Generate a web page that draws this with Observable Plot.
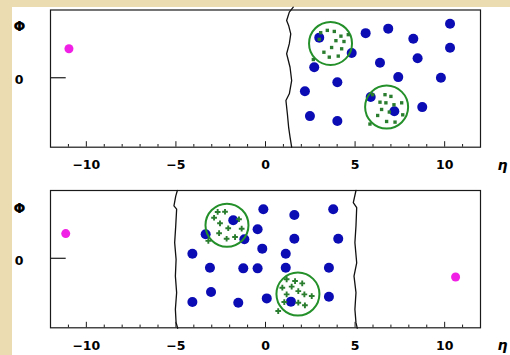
<!DOCTYPE html>
<html><head><meta charset="utf-8">
<script src="https://cdn.jsdelivr.net/npm/d3@7"></script>
<script src="https://cdn.jsdelivr.net/npm/@observablehq/plot@0.6"></script>
<style>
html,body{margin:0;padding:0;background:#ecdcb2;width:510px;height:355px;overflow:hidden;}
#card{position:absolute;left:12px;top:7px;width:498px;height:348px;background:#fff;}
#card svg{display:block;overflow:visible;}
</style></head><body><div id="card"></div>
<script>
// ---- axes ----
const etaDomain = [-12, 12];
const phiDomain = [-3.24, 3.16];
const etaTickLabels = [-10, -5, 0, 5, 10];
const etaMinorTicks = [-11, -9, -8, -7, -6, -4, -3, -2, -1, 1, 2, 3, 4, 6, 7, 8, 9, 11];
const phiTickLabels = [0];
const etaTitle = "η";
const phiTitle = "Φ";

// ---- top panel ----
const topBlueEta = [10.30, 6.85, 5.59, 8.25, 10.30, 4.81, 8.49, 6.39, 2.72, 7.41, 9.79, 4.01, 2.20, 5.87, 8.75, 7.19, 2.48, 4.01, 3.00];
const topBluePhi = [2.52, 2.29, 2.08, 1.82, 1.40, 1.15, 0.91, 0.70, 0.49, 0.03, 0.00, -0.21, -0.63, -0.90, -1.37, -1.56, -1.79, -2.02, 1.87];
const topMagentaEta = [-10.97];
const topMagentaPhi = [1.35];
const topJetEta = [3.63, 6.76];
const topJetPhi = [1.60, -1.37];
const topCellEta = [3.08, 3.45, 3.84, 4.21, 4.62, 3.00, 3.93, 4.38, 3.69, 3.26, 4.25, 3.56, 4.06, 2.67,
                    5.98, 6.67, 7.00, 6.39, 6.72, 7.17, 7.60, 6.48, 6.91, 6.26, 6.76, 7.23, 7.66, 5.83];
const topCellPhi = [2.10, 2.21, 2.16, 1.94, 2.01, 1.79, 1.73, 1.69, 1.41, 1.19, 1.35, 0.96, 1.01, 0.85,
                    -0.79, -0.79, -0.87, -1.14, -1.17, -1.26, -1.17, -1.48, -1.60, -1.76, -2.04, -2.07, -1.73, -2.16];
const topGapEta = [1.55, 1.33, 1.18, 1.29, 1.41, 1.33, 1.18, 1.37, 1.46, 1.33, 1.14, 1.22, 1.29, 1.37, 1.46];
const topGapPhi = [3.29, 3.06, 2.67, 2.44, 2.05, 1.59, 1.12, 0.49, -0.13, -0.75, -1.06, -1.68, -2.30, -2.77, -3.24];

// ---- bottom panel ----
const botBlueEta = [-0.12, 3.78, 1.61, -1.80, -0.44, -3.34, -1.18, 1.61, 4.06, -0.18, 1.13, -4.08, -3.10, -1.24, -0.44, 1.13, 3.54, -3.04, 0.07, 3.54, -4.08, -1.52, 1.42];
const botBluePhi = [2.29, 2.29, 2.02, 1.77, 1.35, 1.12, 0.89, 0.91, 0.91, 0.45, 0.21, 0.21, -0.44, -0.47, -0.47, -0.44, -0.44, -1.57, -1.87, -1.79, -2.04, -2.07, -2.02];
const botMagentaEta = [-11.15, 10.61];
const botMagentaPhi = [1.15, -0.87];
const botJetEta = [-2.15, 1.81];
const botJetPhi = [1.54, -1.67];
const botCellEta = [-2.67, -2.26, -2.87, -2.54, -2.08, -1.33, -2.59, -2.17, -1.70, -1.48, -3.19,
                    1.18, 1.65, 2.05, 0.94, 1.46, 1.83, 1.18, 2.17, 2.58, 1.05, 1.83, 2.20, 0.71];
const botCellPhi = [2.16, 2.17, 1.89, 1.63, 1.40, 1.38, 1.17, 0.91, 0.99, 1.82, 0.81,
                    -0.98, -1.06, -1.17, -1.37, -1.32, -1.53, -1.68, -1.68, -1.76, -2.04, -2.07, -2.19, -2.46];
const botGapLeftEta = [-4.92, -5.01, -5.11, -4.96, -5.01, -5.07, -4.99, -5.03, -4.96, -5.03, -4.99, -4.90];
const botGapLeftPhi = [3.16, 2.90, 2.44, 2.29, 1.51, 0.73, -0.05, -0.83, -1.60, -2.38, -3.00, -3.26];
const botGapRightEta = [5.05, 4.90, 5.09, 5.05, 4.99, 5.09, 4.94, 5.05, 4.99, 5.05, 5.12];
const botGapRightPhi = [3.16, 2.59, 2.36, 1.51, 0.73, -0.21, -0.83, -1.60, -2.38, -3.00, -3.26];

const zip = (e, p, extra = {}) => e.map((v, i) => ({eta: v, phi: p[i], ...extra}));

function panel({height, marginTop, marginBottom, blue, magenta, jets, cells, cellSymbol, gaps, phiTitleDy}) {
  const width = 498, marginLeft = 38, marginRight = 30;
  const frameH = height - marginTop - marginBottom;
  const frameW = width - marginLeft - marginRight;
  const phiPerPx = (phiDomain[1] - phiDomain[0]) / frameH;
  const etaPerPx = (etaDomain[1] - etaDomain[0]) / frameW;
  const ink = "#1a1a1a";
  const label = {fontWeight: "bold", fill: "#000", textAnchor: "middle", lineAnchor: "middle"};
  return Plot.plot({
    width, height, marginLeft, marginRight, marginTop, marginBottom,
    style: {background: "white", fontFamily: "DejaVu Sans, sans-serif", overflow: "visible"},
    x: {domain: etaDomain},
    y: {domain: phiDomain, axis: null},
    marks: [
      Plot.frame({stroke: ink, strokeWidth: 1.2}),
      Plot.ruleX(etaMinorTicks, {x: d => d, y1: phiDomain[0], y2: phiDomain[0] + 2.7 * phiPerPx, stroke: ink, strokeWidth: 1}),
      Plot.ruleX(etaTickLabels, {x: d => d, y1: phiDomain[0], y2: phiDomain[0] + 5.5 * phiPerPx, stroke: ink, strokeWidth: 1}),
      Plot.ruleY(phiTickLabels, {y: d => d, x1: etaDomain[0], x2: etaDomain[0] + 15.7 * etaPerPx, stroke: ink, strokeWidth: 1.2}),
      Plot.axisX({ticks: etaTickLabels, tickSize: 0, tickPadding: 13, fontSize: 12.5, fontWeight: "bold", fill: "#000", label: null}),
      Plot.text(phiTickLabels, {y: d => d, frameAnchor: "left", dx: -31.5, dy: 2.6, text: d => String(d), fontSize: 12.5, ...label}),
      Plot.text([phiTitle], {frameAnchor: "top-left", dx: -31, dy: phiTitleDy, text: d => d, fontSize: 14, ...label}),
      Plot.text([etaTitle], {frameAnchor: "bottom-right", dx: 22, dy: 18, text: d => d, fontSize: 14, fontStyle: "italic", ...label}),
      ...gaps.map(g => Plot.line(g, {x: "eta", y: "phi", stroke: "#111", strokeWidth: 1.3})),
      Plot.dot(blue, {x: "eta", y: "phi", r: 5, fill: "#0c0cb4", stroke: "none"}),
      Plot.dot(magenta, {x: "eta", y: "phi", r: 4.5, fill: "#f020e4", stroke: "none"}),
      Plot.dot(jets, {x: "eta", y: "phi", r: 21.5, fill: "none", stroke: "#24902a", strokeWidth: 2}),
      Plot.dot(cells, {x: "eta", y: "phi", symbol: cellSymbol, r: cellSymbol === "square" ? 1.9 : 2.4, fill: "#2a7d2e", stroke: "none"})
    ]
  });
}

const card = document.getElementById("card");
card.appendChild(panel({
  height: 178, marginTop: 2.5, marginBottom: 38.3,
  blue: zip(topBlueEta, topBluePhi),
  magenta: zip(topMagentaEta, topMagentaPhi),
  jets: zip(topJetEta, topJetPhi),
  cells: zip(topCellEta, topCellPhi),
  cellSymbol: "square",
  gaps: [zip(topGapEta, topGapPhi)],
  phiTitleDy: 17
}));
card.appendChild(panel({
  height: 170, marginTop: 5, marginBottom: 27.7,
  blue: zip(botBlueEta, botBluePhi),
  magenta: zip(botMagentaEta, botMagentaPhi),
  jets: zip(botJetEta, botJetPhi),
  cells: zip(botCellEta, botCellPhi),
  cellSymbol: "cross",
  gaps: [zip(botGapLeftEta, botGapLeftPhi), zip(botGapRightEta, botGapRightPhi)],
  phiTitleDy: 18.3
}));
</script></body></html>
